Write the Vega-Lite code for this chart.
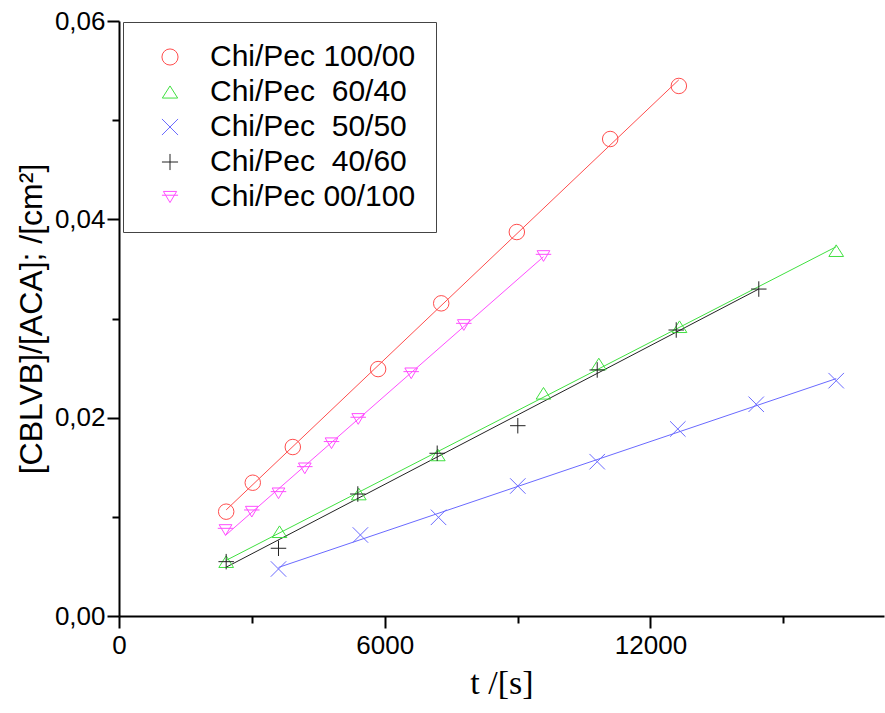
{
  "$schema": "https://vega.github.io/schema/vega-lite/v6.json",
  "width": 765,
  "height": 595,
  "autosize": {"type": "none"},
  "padding": {"left": 119, "top": 21, "right": 1, "bottom": 97},
  "background": "white",
  "config": {"view": {"stroke": null}, "font": "Liberation Sans"},
  "data": {
    "values": [
      {"series": "Chi/Pec 100/00", "t": 2420, "v": 0.01052},
      {"series": "Chi/Pec 100/00", "t": 3020, "v": 0.01344},
      {"series": "Chi/Pec 100/00", "t": 3924, "v": 0.01704},
      {"series": "Chi/Pec 100/00", "t": 5850, "v": 0.0249},
      {"series": "Chi/Pec 100/00", "t": 7275, "v": 0.03153},
      {"series": "Chi/Pec 100/00", "t": 8982, "v": 0.03872},
      {"series": "Chi/Pec 100/00", "t": 11090, "v": 0.0481},
      {"series": "Chi/Pec 100/00", "t": 12640, "v": 0.05345},
      {"series": "Chi/Pec \u00a060/40", "t": 2420, "v": 0.00548},
      {"series": "Chi/Pec \u00a060/40", "t": 3624, "v": 0.0085},
      {"series": "Chi/Pec \u00a060/40", "t": 5414, "v": 0.0123},
      {"series": "Chi/Pec \u00a060/40", "t": 7198, "v": 0.01624},
      {"series": "Chi/Pec \u00a060/40", "t": 9584, "v": 0.02246},
      {"series": "Chi/Pec \u00a060/40", "t": 10833, "v": 0.02541},
      {"series": "Chi/Pec \u00a060/40", "t": 12655, "v": 0.02917},
      {"series": "Chi/Pec \u00a060/40", "t": 16193, "v": 0.03684},
      {"series": "Chi/Pec \u00a050/50", "t": 3601, "v": 0.00474},
      {"series": "Chi/Pec \u00a050/50", "t": 5450, "v": 0.00817},
      {"series": "Chi/Pec \u00a050/50", "t": 7214, "v": 0.00995},
      {"series": "Chi/Pec \u00a050/50", "t": 9004, "v": 0.01311},
      {"series": "Chi/Pec \u00a050/50", "t": 10797, "v": 0.01556},
      {"series": "Chi/Pec \u00a050/50", "t": 12617, "v": 0.01886},
      {"series": "Chi/Pec \u00a050/50", "t": 14387, "v": 0.02135},
      {"series": "Chi/Pec \u00a050/50", "t": 16193, "v": 0.02373},
      {"series": "Chi/Pec \u00a040/60", "t": 2420, "v": 0.00548},
      {"series": "Chi/Pec \u00a040/60", "t": 3601, "v": 0.00683},
      {"series": "Chi/Pec \u00a040/60", "t": 5392, "v": 0.0123},
      {"series": "Chi/Pec \u00a040/60", "t": 7184, "v": 0.01641},
      {"series": "Chi/Pec \u00a040/60", "t": 9004, "v": 0.01919},
      {"series": "Chi/Pec \u00a040/60", "t": 10797, "v": 0.02481},
      {"series": "Chi/Pec \u00a040/60", "t": 12581, "v": 0.02884},
      {"series": "Chi/Pec \u00a040/60", "t": 14445, "v": 0.03297},
      {"series": "Chi/Pec 00/100", "t": 2405, "v": 0.00867},
      {"series": "Chi/Pec 00/100", "t": 2998, "v": 0.01052},
      {"series": "Chi/Pec 00/100", "t": 3601, "v": 0.01237},
      {"series": "Chi/Pec 00/100", "t": 4195, "v": 0.01489},
      {"series": "Chi/Pec 00/100", "t": 4798, "v": 0.01742},
      {"series": "Chi/Pec 00/100", "t": 5401, "v": 0.01987},
      {"series": "Chi/Pec 00/100", "t": 6597, "v": 0.02447},
      {"series": "Chi/Pec 00/100", "t": 7785, "v": 0.02934},
      {"series": "Chi/Pec 00/100", "t": 9584, "v": 0.0363}
    ]
  },
  "encoding": {
    "x": {
      "field": "t", "type": "quantitative",
      "scale": {"domain": [0, 17272], "nice": false, "zero": false},
      "axis": {
        "values": [0, 3000, 6000, 9000, 12000, 15000],
        "format": "d",
        "labelExpr": "datum.value % 6000 === 0 ? datum.label : ''",
        "grid": false,
        "labelFlush": false,
        "labelFontSize": 26,
        "labelColor": "black",
        "labelPadding": 4,
        "tickSize": {"condition": {"test": "datum.value % 6000 === 0", "value": 12}, "value": 7},
        "tickWidth": 2,
        "tickColor": "black",
        "domainColor": "black",
        "domainWidth": 2,
        "title": "t /[s]",
        "titleFontSize": 34,
        "titleFont": "Liberation Sans Narrow",
        "titleFontWeight": "normal",
        "titleColor": "black",
        "titlePadding": 8
      }
    },
    "y": {
      "field": "v", "type": "quantitative",
      "scale": {"domain": [0, 0.06], "nice": false},
      "axis": {
        "values": [0, 0.01, 0.02, 0.03, 0.04, 0.05, 0.06],
        "labelExpr": "round(datum.value * 100) % 2 === 0 ? replace(format(datum.value, '.2f'), '.', ',') : ''",
        "grid": false,
        "labelFlush": false,
        "labelFontSize": 26,
        "labelColor": "black",
        "labelPadding": 2,
        "tickSize": {"condition": {"test": "round(datum.value * 100) % 2 === 0", "value": 12}, "value": 7},
        "tickWidth": 2,
        "tickColor": "black",
        "domainColor": "black",
        "domainWidth": 2,
        "title": "[CBLVB]/[ACA]; /[cm²]",
        "titleFontSize": 32,
        "titleFontWeight": "normal",
        "titleColor": "black",
        "titlePadding": 6
      }
    }
  },
  "layer": [
    {
      "transform": [{"filter": "datum.series === 'Chi/Pec 100/00'"}, {"regression": "v", "on": "t"}],
      "mark": {"type": "line", "strokeWidth": 1, "color": "#ff4d4d"}
    },
    {
      "transform": [{"filter": "datum.series === 'Chi/Pec \u00a060/40'"}, {"regression": "v", "on": "t"}],
      "mark": {"type": "line", "strokeWidth": 1, "color": "#40e040"}
    },
    {
      "transform": [{"filter": "datum.series === 'Chi/Pec \u00a050/50'"}, {"regression": "v", "on": "t"}],
      "mark": {"type": "line", "strokeWidth": 1, "color": "#6a6aff"}
    },
    {
      "transform": [{"filter": "datum.series === 'Chi/Pec \u00a040/60'"}, {"regression": "v", "on": "t"}],
      "mark": {"type": "line", "strokeWidth": 1, "color": "#222222"}
    },
    {
      "transform": [{"filter": "datum.series === 'Chi/Pec 00/100'"}, {"regression": "v", "on": "t"}],
      "mark": {"type": "line", "strokeWidth": 1, "color": "#ff4dff"}
    },
    {
      "mark": {"type": "point", "filled": false, "strokeWidth": 1, "opacity": 1, "size": 240},
      "encoding": {
        "color": {
          "field": "series", "type": "nominal",
          "scale": {
            "domain": ["Chi/Pec 100/00", "Chi/Pec \u00a060/40", "Chi/Pec \u00a050/50", "Chi/Pec \u00a040/60", "Chi/Pec 00/100"],
            "range": ["#ff4d4d", "#40e040", "#6a6aff", "#222222", "#ff4dff"]
          },
          "legend": {
            "orient": "none",
            "legendX": 4,
            "legendY": 1,
            "title": null,
            "labelFontSize": 30,
            "labelColor": "black",
            "labelLimit": 500,
            "labelOffset": 25,
            "symbolSize": 260,
            "symbolStrokeWidth": 1,
            "symbolOffset": 12,
            "padding": 20,
            "rowPadding": 5,
            "strokeColor": "#444444",
            "fillColor": "white"
          }
        },
        "shape": {
          "field": "series", "type": "nominal",
          "scale": {
            "domain": ["Chi/Pec 100/00", "Chi/Pec \u00a060/40", "Chi/Pec \u00a050/50", "Chi/Pec \u00a040/60", "Chi/Pec 00/100"],
            "range": ["circle", "M0,-0.75L0.95,0.75L-0.95,0.75Z", "M-1,-1L1,1M-1,1L1,-1", "M-1,0L1,0M0,-1L0,1", "M-0.82,-0.69L0.82,-0.69L0,0.69Z M-1,-0.22L1,-0.22"]
          },
          "legend": {
            "orient": "none",
            "legendX": 4,
            "legendY": 1,
            "title": null,
            "labelFontSize": 30,
            "labelColor": "black",
            "labelLimit": 500,
            "labelOffset": 25,
            "symbolSize": 260,
            "symbolStrokeWidth": 1,
            "symbolOffset": 12,
            "padding": 20,
            "rowPadding": 5,
            "strokeColor": "#444444",
            "fillColor": "white"
          }
        }
      }
    }
  ]
}
